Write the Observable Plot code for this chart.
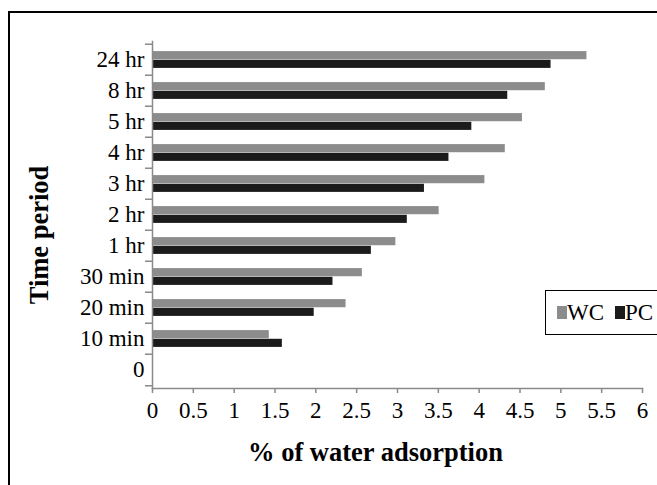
<!DOCTYPE html>
<html>
<head>
<meta charset="utf-8">
<script src="https://cdn.jsdelivr.net/npm/d3@7"></script>
<script src="https://cdn.jsdelivr.net/npm/@observablehq/plot@0.6"></script>
<style>
  html, body { margin: 0; padding: 0; background: #fff; overflow: hidden; }
  #wrap { position: relative; width: 657px; height: 485px; overflow: hidden; }
  #frame { position: absolute; left: 8px; top: 11px; width: 700px; height: 700px; border: 2px solid #000; pointer-events: none; }
  #legend { position: absolute; left: 545px; top: 290px; width: 200px; height: 43px; border: 1.5px solid #000; background: #fff;
            font-family: "Liberation Serif", "Times New Roman", serif; font-size: 23px; color: #000; display: flex; align-items: center; }
  .sw { display: inline-block; width: 10px; height: 13px; margin-left: 11px; margin-right: 0px; }
  #chart { position: absolute; left: 0; top: 0; }
</style>
</head>
<body>
<div id="wrap">
  <div id="chart"></div>
  <div id="frame"></div>
  <div id="legend"></div>
</div>
<script>
const periods = ["24 hr", "8 hr", "5 hr", "4 hr", "3 hr", "2 hr", "1 hr", "30 min", "20 min", "10 min", "0"];
const wcValues = [5.32, 4.81, 4.53, 4.32, 4.07, 3.51, 2.98, 2.57, 2.37, 1.43, 0];
const pcValues = [4.88, 4.35, 3.91, 3.63, 3.33, 3.12, 2.68, 2.21, 1.98, 1.59, 0];
const xTicks = [0, 0.5, 1, 1.5, 2, 2.5, 3, 3.5, 4, 4.5, 5, 5.5, 6];
const seriesNames = ["WC", "PC"];
const seriesColors = ["#8c8c8c", "#1b1b1b"];
const xTitle = "% of water adsorption";
const yTitle = "Time period";

const W = 657, H = 485, mt = 41, mb = 97, ml = 152, mr = 15;
const step = (H - mt - mb) / periods.length;
const font = '"Liberation Serif", "Times New Roman", serif';

const wcData = periods.map((p, i) => ({period: p, value: wcValues[i]})).filter(d => d.value > 0);
const pcData = periods.map((p, i) => ({period: p, value: pcValues[i]})).filter(d => d.value > 0);

const axisColor = "#8a8a8a";

const plot = Plot.plot({
  width: W, height: H,
  marginTop: mt, marginBottom: mb, marginLeft: ml, marginRight: mr,
  style: {fontFamily: font, fontSize: "23px", color: "#000", background: "transparent", overflow: "visible"},
  x: {domain: [0, 6]},
  y: {domain: periods, padding: 0},
  marks: [
    Plot.barX(wcData, {x: "value", y: "period", fill: seriesColors[0], insetTop: step * 0.225, insetBottom: step * 0.50}),
    Plot.barX(pcData, {x: "value", y: "period", fill: seriesColors[1], insetTop: step * 0.50, insetBottom: step * 0.225}),
    Plot.frame({anchor: "left", stroke: axisColor, strokeWidth: 1.5, strokeOpacity: 1}),
    Plot.frame({anchor: "bottom", stroke: axisColor, strokeWidth: 1.5, strokeOpacity: 1}),
    Plot.axisX({ticks: xTicks, tickSize: 5, tickPadding: 8, stroke: axisColor, strokeWidth: 1.5, fill: "#000", fontSize: 23, label: null, tickFormat: d => String(d)}),
    Plot.axisY({tickSize: 0, tickPadding: 8, fill: "#000", fontSize: 23, label: null}),
    Plot.axisY({tickSize: 7, tickFormat: () => "", dy: -step / 2, stroke: axisColor, strokeWidth: 1.5, label: null}),
    Plot.axisY({ticks: [periods[periods.length - 1]], tickSize: 7, tickFormat: () => "", dy: step / 2, stroke: axisColor, strokeWidth: 1.5, label: null}),
    Plot.text([xTitle], {frameAnchor: "bottom", textAnchor: "middle", lineAnchor: "middle", dx: -22, dy: 64, fontWeight: "bold", fontSize: 26.5, fill: "#000"}),
    Plot.text([yTitle], {frameAnchor: "left", textAnchor: "middle", lineAnchor: "middle", rotate: -90, dx: -113, dy: 20, fontWeight: "bold", fontSize: 26.5, fill: "#000"})
  ]
});
document.getElementById("chart").appendChild(plot);

const legend = d3.select("#legend");
seriesNames.forEach((name, i) => {
  legend.append("span").attr("class", "sw").style("background", seriesColors[i]);
  legend.append("span").text(name);
});
</script>
</body>
</html>
